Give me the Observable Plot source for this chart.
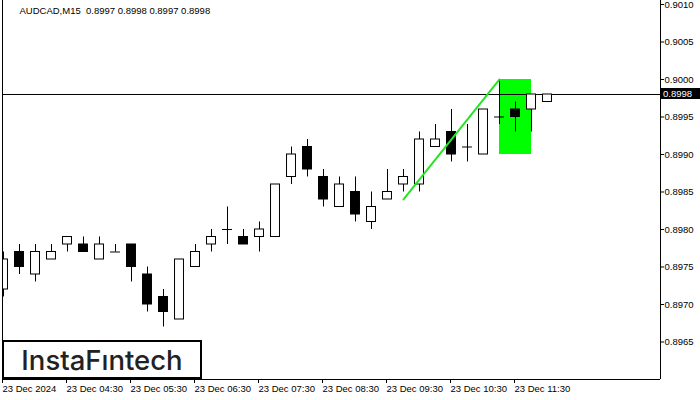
<!DOCTYPE html>
<html>
<head>
<meta charset="utf-8">
<script src="https://cdn.jsdelivr.net/npm/d3@7"></script>
<script src="https://cdn.jsdelivr.net/npm/@observablehq/plot@0.6"></script>
<style>
  html, body { margin: 0; padding: 0; background: #fff; }
  #wrap { position: relative; width: 700px; height: 400px; overflow: hidden; }
  #logo { position: absolute; left: 2px; top: 340px; width: 196px; height: 35px; border: 2px solid #000; background: #fff;
          font-family: Inter, "Open Sans", sans-serif; font-weight: 500; font-size: 27.5px; color: #222; display: flex; align-items: center; justify-content: center; }
  #price { position: absolute; left: 660px; width: 40px; height: 11px; background: #000; color: #fff;
           font-family: "Liberation Sans", Arial, sans-serif; font-size: 9.5px; line-height: 11px; padding-left: 3px; box-sizing: border-box; }
</style>
</head>
<body>
<div id="wrap"></div>
<script>
// M15 candles, 23 Dec 2024, starting 03:30
const opens  = [0.8972,0.8977,0.8974,0.8976,0.8978,0.8978,0.8976,0.8977,0.8978,0.8974,0.8971,0.8968,0.8975,0.8978,0.8980,0.8979,0.8979,0.8979,0.8987,0.8991,0.8987,0.8983,0.8985,0.8981,0.8984,0.8986,0.8986,0.8991,0.8993,0.8991,0.8990,0.8995,0.8996,0.8996,0.8997];
const highs  = [0.8977,0.8978,0.8978,0.8978,0.8979,0.8979,0.8979,0.8978,0.8978,0.8975,0.8972,0.8976,0.8978,0.8980,0.8983,0.8980,0.8981,0.8986,0.8991,0.8992,0.8988,0.8987,0.8987,0.8985,0.8988,0.8988,0.8993,0.8994,0.8996,0.8994,0.8996,0.9000,0.8997,0.8998,0.8998];
const lows   = [0.8971,0.8974,0.8973,0.8976,0.8977,0.8977,0.8976,0.8977,0.8973,0.8969,0.8967,0.8968,0.8975,0.8977,0.8978,0.8978,0.8977,0.8979,0.8986,0.8987,0.8983,0.8983,0.8981,0.8980,0.8984,0.8985,0.8985,0.8991,0.8989,0.8989,0.8990,0.8994,0.8993,0.8993,0.8997];
const closes = [0.8976,0.8975,0.8977,0.8977,0.8979,0.8977,0.8978,0.8977,0.8975,0.8970,0.8969,0.8976,0.8977,0.8979,0.8980,0.8978,0.8980,0.8986,0.8990,0.8988,0.8984,0.8986,0.8982,0.8983,0.8985,0.8987,0.8992,0.8992,0.8990,0.8991,0.8996,0.8995,0.8995,0.8998,0.8998];

const tickIndex  = [0, 4, 8, 12, 16, 20, 24, 28, 32];
const tickLabels = ["23 Dec 2024","23 Dec 04:30","23 Dec 05:30","23 Dec 06:30","23 Dec 07:30","23 Dec 08:30","23 Dec 09:30","23 Dec 10:30","23 Dec 11:30"];
const priceTicks = [0.8965,0.8970,0.8975,0.8980,0.8985,0.8990,0.8995,0.9000,0.9005,0.9010];

const symbol = "AUDCAD,M15";
const currentPrice = 0.8998;
// flag pattern: pole from candle 25 low to candle 31 high, flag box candles 31..33
const poleIndex = [25, 31];
const poleValue = [0.8984, 0.9000];
const boxIndex = [31, 33];
const boxValue = [0.8990, 0.9000];

const candles = opens.map((o, i) => ({i, o, h: highs[i], l: lows[i], c: closes[i]}));
const bodies = candles.filter(d => d.o !== d.c);
const dojis = candles.filter(d => d.o === d.c);
const pole = poleIndex.map((i, k) => ({i, v: poleValue[k]}));
const last = candles[candles.length - 1];
const fmt = d3.format(".4f");
const font = "Liberation Sans, Arial, sans-serif";
const hw = 0.28;

const chart = Plot.plot({
  width: 700, height: 400,
  marginLeft: 2, marginRight: 40, marginTop: 0, marginBottom: 21,
  style: {fontFamily: font, fontSize: "9.5px", color: "#000", background: "#fff"},
  x: {type: "linear", domain: [-0.0625, 41.0625]},
  y: {domain: [0.8960, 0.9010533]},
  marks: [
    Plot.rect([{x1: boxIndex[0], x2: boxIndex[1], y1: boxValue[0], y2: boxValue[1]}], {x1: "x1", x2: "x2", y1: "y1", y2: "y2", fill: "#00ff00"}),
    Plot.ruleY([currentPrice], {stroke: "#000", strokeWidth: 1}),
    Plot.ruleX(candles, {x: "i", y1: "l", y2: "h", stroke: "#000", clip: true}),
    Plot.rect(bodies, {x1: d => d.i - hw, x2: d => d.i + hw, y1: "o", y2: "c",
      fill: d => d.c > d.o ? "#fff" : "#000", stroke: "#000", strokeWidth: 1, clip: true}),
    Plot.ruleY(dojis, {y: "o", x1: d => d.i - hw - 0.03, x2: d => d.i + hw + 0.03, stroke: "#000", clip: true}),
    Plot.line(pole, {x: "i", y: "v", stroke: "#22e622", strokeWidth: 2}),
    Plot.ruleX([-0.0625], {stroke: "#000"}),
    Plot.ruleX([41.0625], {stroke: "#000"}),
    Plot.ruleY([0.8960], {stroke: "#000"}),
    Plot.axisY({anchor: "right", ticks: priceTicks, tickFormat: fmt, tickSize: 3, tickPadding: 1, fontSize: "9.5px", label: null}),
    Plot.axisX({anchor: "bottom", ticks: tickIndex, tickFormat: d => tickLabels[tickIndex.indexOf(d)], tickSize: 4, tickPadding: 2,
      textAnchor: "start", dx: -1, fontSize: "9.5px", label: null}),
    Plot.text([`${symbol}  ${fmt(last.o)} ${fmt(last.h)} ${fmt(last.l)} ${fmt(last.c)}`], {frameAnchor: "top-left", dx: 17, dy: 7, fontSize: "9.5px", textAnchor: "start", fill: "#000"})
  ]
});

const wrap = document.getElementById("wrap");
wrap.appendChild(chart);

// current price marker on the right axis (HTML overlay, positioned by the y scale)
const py = chart.scale("y").apply(currentPrice);
const price = document.createElement("div");
price.id = "price";
price.style.top = (py - 6) + "px";
price.textContent = fmt(currentPrice);
wrap.appendChild(price);

const logo = document.createElement("div");
logo.id = "logo";
logo.textContent = "InstaFıntech";
wrap.appendChild(logo);
</script>
</body>
</html>
